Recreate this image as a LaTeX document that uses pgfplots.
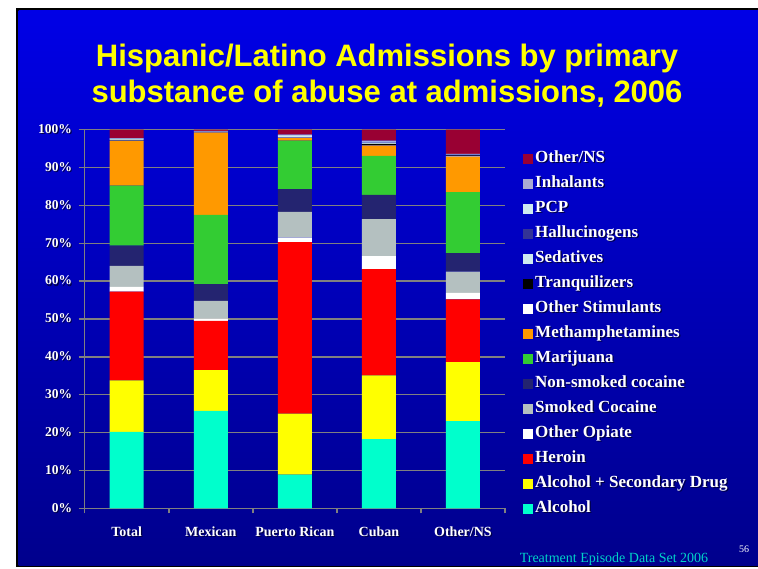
\documentclass[border=0pt]{standalone}
\usepackage{pgfplots}
\pgfplotsset{compat=1.18}
\usepackage{pgfplotstable}
\usepackage{fontspec}
\setmainfont{Liberation Serif}
\newfontfamily\titlefont{Liberation Sans}
\definecolor{bgtop}{RGB}{0,0,230}
\definecolor{bgbot}{RGB}{0,0,140}
\definecolor{shad}{RGB}{0,0,70}
\definecolor{cAlc}{RGB}{0,255,204}
\definecolor{cAlcS}{RGB}{255,255,0}
\definecolor{cHer}{RGB}{255,0,0}
\definecolor{cOpi}{RGB}{255,255,255}
\definecolor{cSmk}{RGB}{180,192,192}
\definecolor{cNsm}{RGB}{36,36,112}
\definecolor{cMar}{RGB}{51,204,51}
\definecolor{cMet}{RGB}{255,153,0}
\definecolor{cStim}{RGB}{255,255,255}
\definecolor{cTrq}{RGB}{0,0,0}
\definecolor{cSed}{RGB}{206,234,240}
\definecolor{cHal}{RGB}{51,51,150}
\definecolor{cPCP}{RGB}{206,234,240}
\definecolor{cInh}{RGB}{170,170,210}
\definecolor{cOth}{RGB}{153,0,51}
\definecolor{gridgray}{RGB}{128,128,128}
\definecolor{footcyan}{RGB}{0,210,200}
\definecolor{titleyellow}{RGB}{255,255,0}
\newcommand\sh[1]{\makebox[0pt][l]{\raisebox{-1.2pt}{\hspace{1.2pt}\textcolor{shad}{#1}}}#1}

\pgfplotstableread{
x alc alcs her opi smk nsm mar met stim trq sed hal pcp inh oth
0 20.2 13.6 23.4 1.3 5.5 5.4 15.8 11.8 0.1 0.2 0.2 0.1 0.1 0.1 2.2
1 25.7 10.8 13.0 0.6 4.7 4.4 18.3 21.7 0.1 0.05 0.1 0.05 0.15 0.05 0.3
2 8.9 16.1 45.3 1.2 6.8 6.0 12.8 0.7 0.1 0.1 0.3 0.1 0.2 0.1 1.3
3 18.3 16.8 28.1 3.4 9.8 6.4 10.3 2.7 0.05 0.4 0.3 0.05 0.3 0.2 2.9
4 23.0 15.6 16.6 1.7 5.6 4.9 16.1 9.4 0.1 0.2 0.2 0.1 0.1 0.0 6.4
}\datatable

\begin{document}
\begin{tikzpicture}
\path[use as bounding box] (0pt,0pt) rectangle (758pt,568pt);
\fill[white] (0pt,0pt) rectangle (758pt,568pt);
\fill[black] (16pt,1pt) rectangle (758pt,560pt);
\shade[top color=bgtop, bottom color=bgbot] (18.5pt,2.5pt) rectangle (758pt,557.5pt);

\node[text=titleyellow, font=\titlefont\bfseries\fontsize{31}{31}\selectfont] at (387pt,510pt) {Hispanic/Latino Admissions by primary};
\node[text=titleyellow, font=\titlefont\bfseries\fontsize{31}{31}\selectfont] at (387pt,474pt) {substance of abuse at admissions, 2006};

\begin{axis}[
  at={(84.7pt,59.7pt)}, anchor=south west,
  scale only axis, width=420.3pt, height=378.6pt,
  ybar stacked, bar width=34pt,
  xmin=-0.5, xmax=4.5, ymin=0, ymax=100,
  axis x line*=bottom, axis y line*=left,
  axis line style={gridgray, line width=1.5pt},
  ymajorgrids, grid style={gridgray, line width=1.5pt},
  ytick={0,10,...,100},
  yticklabels={\sh{0\%},\sh{10\%},\sh{20\%},\sh{30\%},\sh{40\%},\sh{50\%},\sh{60\%},\sh{70\%},\sh{80\%},\sh{90\%},\sh{100\%}},
  xtick={0,1,2,3,4},
  xticklabels={\sh{Total},\sh{Mexican},\sh{Puerto Rican},\sh{Cuban},\sh{Other/NS}},
  minor xtick={-0.5,0.5,1.5,2.5,3.5,4.5},
  tick align=outside,
  major tick length=6pt, minor tick length=5pt,
  x tick style={draw=none},
  minor x tick style={draw=gridgray, line width=1.5pt},
  y tick style={draw=gridgray, line width=1.5pt},
  yticklabel style={text=white, font=\bfseries\fontsize{13.5}{13.5}\selectfont, inner sep=6.5pt},
  xticklabel style={text=white, font=\bfseries\fontsize{14}{14}\selectfont, yshift=-9pt},
  every axis plot/.append style={draw=none},
  reverse legend,
  legend cell align=left,
  legend image code/.code={\fill[#1] (0pt,-5pt) rectangle (10pt,5pt);},
  legend style={at={(1.0357,0.948)}, anchor=north west, draw=none, fill=none,
    text=white, font=\bfseries\fontsize{17}{17}\selectfont,
    nodes={inner sep=0pt, text height=11pt, text depth=3pt},
    row sep=11pt,
    /tikz/every odd column/.append style={column sep=2pt}},
]
\addplot[fill=cAlc] table[x=x,y=alc]{\datatable};
\addlegendentry{\sh{Alcohol}}
\addplot[fill=cAlcS] table[x=x,y=alcs]{\datatable};
\addlegendentry{\sh{Alcohol + Secondary Drug}}
\addplot[fill=cHer] table[x=x,y=her]{\datatable};
\addlegendentry{\sh{Heroin}}
\addplot[fill=cOpi] table[x=x,y=opi]{\datatable};
\addlegendentry{\sh{Other Opiate}}
\addplot[fill=cSmk] table[x=x,y=smk]{\datatable};
\addlegendentry{\sh{Smoked Cocaine}}
\addplot[fill=cNsm] table[x=x,y=nsm]{\datatable};
\addlegendentry{\sh{Non-smoked cocaine}}
\addplot[fill=cMar] table[x=x,y=mar]{\datatable};
\addlegendentry{\sh{Marijuana}}
\addplot[fill=cMet] table[x=x,y=met]{\datatable};
\addlegendentry{\sh{Methamphetamines}}
\addplot[fill=cStim] table[x=x,y=stim]{\datatable};
\addlegendentry{\sh{Other Stimulants}}
\addplot[fill=cTrq] table[x=x,y=trq]{\datatable};
\addlegendentry{\sh{Tranquilizers}}
\addplot[fill=cSed] table[x=x,y=sed]{\datatable};
\addlegendentry{\sh{Sedatives}}
\addplot[fill=cHal] table[x=x,y=hal]{\datatable};
\addlegendentry{\sh{Hallucinogens}}
\addplot[fill=cPCP] table[x=x,y=pcp]{\datatable};
\addlegendentry{\sh{PCP}}
\addplot[fill=cInh] table[x=x,y=inh]{\datatable};
\addlegendentry{\sh{Inhalants}}
\addplot[fill=cOth] table[x=x,y=oth]{\datatable};
\addlegendentry{\sh{Other/NS}}
\end{axis}

\node[text=footcyan, font=\fontsize{14}{14}\selectfont, anchor=base] at (614pt,6pt) {Treatment Episode Data Set 2006};
\node[text=white, font=\fontsize{10}{10}\selectfont, anchor=base] at (744pt,16pt) {56};
\end{tikzpicture}
\end{document}
